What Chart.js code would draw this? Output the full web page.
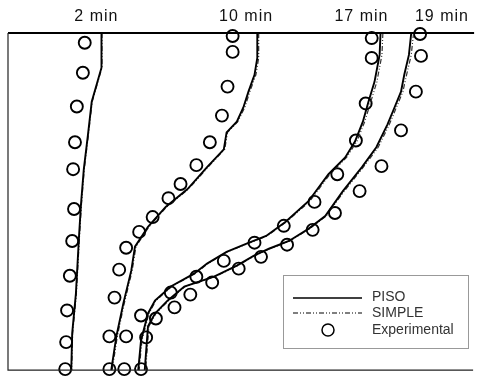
<!DOCTYPE html>
<html>
<head>
<meta charset="utf-8">
<script src="https://cdn.jsdelivr.net/npm/chart.js@4"></script>
<style>
  html, body { margin: 0; padding: 0; background: #fff; }
  #wrap { width: 481px; height: 378px; }
</style>
</head>
<body>
<div id="wrap"><canvas id="profile"></canvas></div>
<script>
// time labels shown above the plot and where they sit on the x axis
const timeLabels = ['2 min', '10 min', '17 min', '19 min'];
const labelPos = [19.0, 51.2, 76.0, 93.3];

// experimental points (x = front position, y = depth, 0 at top)
const exp2x = [16.5, 16.1, 14.8, 14.4, 14.0, 14.2, 13.8, 13.3, 12.7, 12.5, 12.3];
const exp2y = [2.9, 11.8, 21.8, 32.4, 40.4, 52.2, 61.7, 72.0, 82.3, 91.7, 99.7];
const exp10x = [48.3, 48.3, 47.2, 46.0, 43.4, 40.5, 37.1, 34.5, 31.1, 28.2, 25.4, 23.9, 22.9, 21.8, 21.8];
const exp10y = [0.9, 5.6, 15.9, 24.5, 32.4, 39.2, 44.8, 49.0, 54.6, 59.0, 63.7, 70.2, 78.5, 90.0, 99.7];
const exp17x = [78.2, 78.2, 76.9, 74.8, 70.8, 65.9, 59.3, 53.0, 46.4, 40.5, 35.0, 28.6, 25.4, 25.0];
const exp17y = [1.5, 7.4, 20.9, 31.9, 41.9, 50.1, 57.2, 62.2, 67.6, 72.3, 77.0, 83.8, 90.0, 99.7];
const exp19x = [88.6, 88.8, 87.7, 84.5, 80.3, 75.6, 70.3, 65.5, 60.0, 54.4, 49.6, 43.9, 39.2, 35.8, 31.8, 29.7, 28.6];
const exp19y = [0.3, 6.8, 17.4, 28.9, 39.5, 46.9, 53.4, 58.4, 62.8, 66.4, 69.9, 74.0, 77.6, 81.4, 84.7, 90.3, 99.7];

// PISO model curves
const piso2x = [20.1, 20.1, 18.0, 17.2, 16.3, 15.7, 15.3, 14.6, 13.8, 13.6];
const piso2y = [0, 10.3, 20.4, 30.1, 40.4, 50.7, 59.6, 77.3, 89.1, 100];
const piso10x = [53.6, 53.6, 53.0, 51.7, 50.6, 49.2, 47.0, 46.4, 42.8, 38.6, 33.9, 30.1, 27.3, 26.5, 24.8, 23.3, 22.2];
const piso10y = [0, 7.4, 12.4, 17.4, 22.1, 26.3, 29.5, 34.5, 39.8, 46.3, 51.6, 57.5, 63.4, 70.5, 80.2, 90.0, 100];
const piso17x = [80.1, 79.9, 78.8, 77.5, 76.3, 74.6, 72.5, 68.9, 64.6, 59.7, 55.5, 51.3, 47.0, 42.8, 40.0, 35.0, 31.6, 30.1, 28.6, 28.0];
const piso17y = [0, 6.5, 14.5, 20.4, 26.3, 32.2, 36.9, 41.9, 49.9, 56.0, 60.2, 62.5, 64.9, 68.4, 71.4, 75.2, 79.4, 83.2, 91.2, 100];
const piso19x = [86.7, 86.2, 85.2, 84.5, 83.1, 81.6, 79.2, 76.1, 72.0, 68.2, 64.6, 60.4, 56.1, 52.8, 49.2, 44.3, 37.9, 34.3, 31.6, 30.1, 29.4];
const piso19y = [0, 6.5, 12.4, 17.4, 22.1, 27.1, 33.9, 39.8, 46.9, 54.3, 58.1, 61.7, 64.0, 66.1, 69.0, 72.3, 75.2, 79.4, 83.2, 87.0, 100];

// SIMPLE model curves (almost on top of PISO)
const simple2x = [20.2, 20.2, 18.1, 17.3, 16.4, 15.8, 15.4, 14.7, 13.9, 13.7];
const simple2y = [0, 10.3, 20.4, 30.1, 40.4, 50.7, 59.6, 77.3, 89.1, 100];
const simple10x = [53.9, 53.9, 53.3, 52.0, 50.9, 49.4, 47.2, 46.6, 43.0, 38.8, 34.1, 30.3, 27.5, 26.7, 25.0, 23.5, 22.4];
const simple10y = [0, 7.4, 12.4, 17.4, 22.1, 26.3, 29.5, 34.5, 39.8, 46.3, 51.6, 57.5, 63.4, 70.5, 80.2, 90.0, 100];
const simple17x = [80.6, 80.4, 79.3, 78.0, 76.7, 75.0, 72.8, 69.2, 64.9, 59.9, 55.7, 51.5, 47.2, 43.0, 40.2, 35.2, 31.8, 30.3, 28.8, 28.2];
const simple17y = [0, 6.5, 14.5, 20.4, 26.3, 32.2, 36.9, 41.9, 49.9, 56.0, 60.2, 62.5, 64.9, 68.4, 71.4, 75.2, 79.4, 83.2, 91.2, 100];
const simple19x = [87.2, 86.7, 85.7, 84.9, 83.5, 82.0, 79.6, 76.4, 72.3, 68.4, 64.8, 60.6, 56.3, 53.0, 49.4, 44.5, 38.1, 34.5, 31.8, 30.3, 29.6];
const simple19y = [0, 6.5, 12.4, 17.4, 22.1, 27.1, 33.9, 39.8, 46.9, 54.3, 58.1, 61.7, 64.0, 66.1, 69.0, 72.3, 75.2, 79.4, 83.2, 87.0, 100];

function pts(xs, ys) {
    return xs.map((x, i) => ({ x: x, y: ys[i] }));
}

function lineSet(label, xs, ys, dashed) {
    return {
        label: label,
        data: pts(xs, ys),
        showLine: true,
        borderColor: dashed ? '#333' : '#000',
        borderWidth: dashed ? 1.2 : 1.9,
        borderDash: dashed ? [5, 2, 1, 2, 1, 2] : [],
        pointRadius: 0,
        tension: 0,
        clip: false
    };
}

function expSet(xs, ys) {
    return {
        label: 'Experimental',
        data: pts(xs, ys),
        showLine: false,
        pointRadius: 6,
        pointBorderWidth: 1.9,
        pointBorderColor: '#000',
        pointBackgroundColor: 'rgba(255,255,255,0)',
        clip: false
    };
}

// frame, top time labels and the inset legend
const decor = {
    id: 'decor',
    afterDraw(chart) {
        const ctx = chart.ctx;
        const a = chart.chartArea;
        const xs = chart.scales.x;
        ctx.save();
        ctx.strokeStyle = '#000';
        ctx.lineWidth = 2;
        ctx.beginPath();
        ctx.moveTo(a.left, a.top);
        ctx.lineTo(a.right + 1, a.top);
        ctx.stroke();
        ctx.lineWidth = 1.2;
        ctx.strokeStyle = '#222';
        ctx.beginPath();
        ctx.moveTo(a.left, a.top);
        ctx.lineTo(a.left, a.bottom);
        ctx.lineTo(a.right, a.bottom);
        ctx.stroke();

        ctx.fillStyle = '#111';
        ctx.font = '16px "Liberation Sans", Arial, sans-serif';
        ctx.letterSpacing = '1px';
        ctx.textAlign = 'center';
        ctx.textBaseline = 'middle';
        timeLabels.forEach((t, i) => {
            ctx.fillText(t, xs.getPixelForValue(labelPos[i]), 17);
        });
        ctx.letterSpacing = '0px';

        // legend box
        const bx = 283, by = 275, bw = 185, bh = 73;
        ctx.strokeStyle = '#999';
        ctx.lineWidth = 1;
        ctx.strokeRect(bx + 0.5, by + 0.5, bw, bh);
        ctx.strokeStyle = '#000';
        ctx.lineWidth = 1.5;
        ctx.beginPath();
        ctx.moveTo(bx + 10, by + 23);
        ctx.lineTo(bx + 79, by + 23);
        ctx.stroke();
        ctx.lineWidth = 1.2;
        ctx.setLineDash([5, 2, 1, 2, 1, 2]);
        ctx.beginPath();
        ctx.moveTo(bx + 10, by + 38);
        ctx.lineTo(bx + 79, by + 38);
        ctx.stroke();
        ctx.setLineDash([]);
        ctx.lineWidth = 1.5;
        ctx.beginPath();
        ctx.arc(bx + 45, by + 55, 6, 0, Math.PI * 2);
        ctx.stroke();
        ctx.fillStyle = '#333';
        ctx.font = '14px "Liberation Sans", Arial, sans-serif';
        ctx.textAlign = 'left';
        ctx.fillText('PISO', bx + 89, by + 22);
        ctx.fillText('SIMPLE', bx + 89, by + 38);
        ctx.fillText('Experimental', bx + 89, by + 55);
        ctx.restore();
    }
};

const ctx = document.getElementById('profile').getContext('2d');
new Chart(ctx, {
    type: 'scatter',
    data: {
        datasets: [
            lineSet('PISO', piso2x, piso2y, false),
            lineSet('PISO', piso10x, piso10y, false),
            lineSet('PISO', piso17x, piso17y, false),
            lineSet('PISO', piso19x, piso19y, false),
            lineSet('SIMPLE', simple2x, simple2y, true),
            lineSet('SIMPLE', simple10x, simple10y, true),
            lineSet('SIMPLE', simple17x, simple17y, true),
            lineSet('SIMPLE', simple19x, simple19y, true),
            expSet(exp2x, exp2y),
            expSet(exp10x, exp10y),
            expSet(exp17x, exp17y),
            expSet(exp19x, exp19y)
        ]
    },
    options: {
        responsive: true,
        maintainAspectRatio: false,
        animation: false,
        layout: { padding: { left: 8, right: 1, top: 33, bottom: 6 } },
        scales: {
            x: { type: 'linear', min: 0, max: 100, display: false },
            y: { type: 'linear', min: 0, max: 100, reverse: true, display: false }
        },
        plugins: {
            legend: { display: false },
            tooltip: { enabled: false }
        }
    },
    plugins: [decor]
});
</script>
</body>
</html>
